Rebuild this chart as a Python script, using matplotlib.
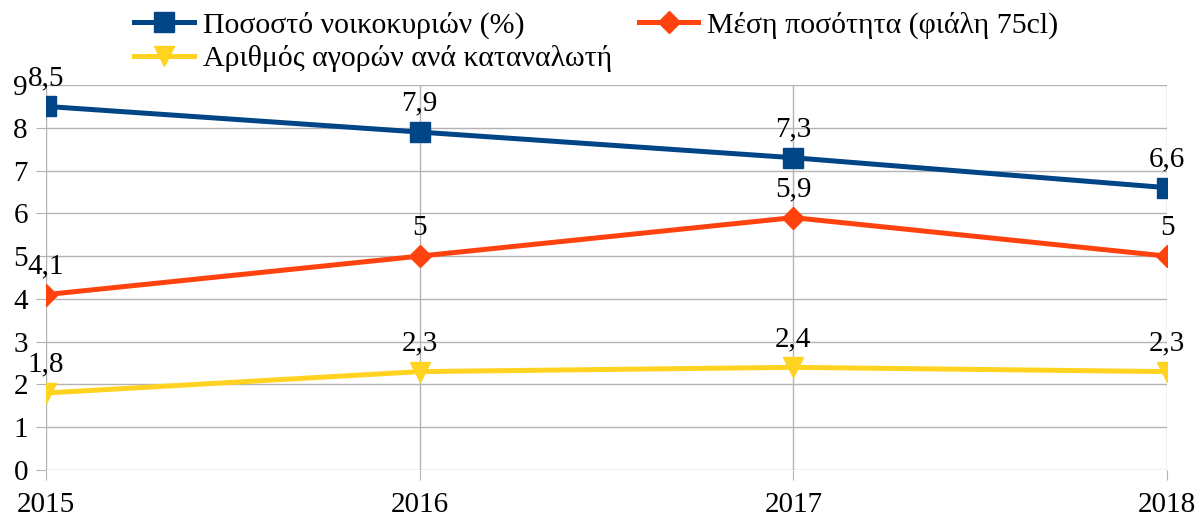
import matplotlib
matplotlib.use("Agg")
import matplotlib.pyplot as plt

years = ["2015", "2016", "2017", "2018"]
households = [8.5, 7.9, 7.3, 6.6]
avg_amount = [4.1, 5, 5.9, 5]
purchases = [1.8, 2.3, 2.4, 2.3]

labels = ["Ποσοστό νοικοκυριών (%)", "Μέση ποσότητα (φιάλη 75cl)",
          "Αριθμός αγορών ανά καταναλωτή"]

plt.rcParams['font.family'] = ['Liberation Serif', 'DejaVu Serif']
plt.rcParams['font.size'] = 21

fig = plt.figure(figsize=(11.97, 5.18), dpi=100)
ax = fig.add_axes([46 / 1197, 48 / 518, 1121 / 1197, 385 / 518])

x = range(len(years))
series = [
    (households, "#004586", "s", 14),
    (avg_amount, "#ff420e", "D", 11),
    (purchases, "#ffd320", "v", 15),
]
for vals, col, mk, ms in series:
    ax.plot(x, vals, color=col, lw=3.6, marker=mk, ms=ms, zorder=3)
    for xi, v in zip(x, vals):
        txt = f"{v:g}".replace(".", ",")
        ax.annotate(txt, (xi, v), xytext=(0, 11), textcoords="offset points",
                    ha="center", va="bottom", fontsize=21)

ax.set_xlim(0, 3)
ax.set_ylim(0, 9)
ax.set_yticks(range(10))
ax.set_xticks(list(x))
ax.set_xticklabels(years)
ax.grid(True, color="#b3b3b3", lw=1)
ax.set_axisbelow(True)
for s in ax.spines.values():
    s.set_visible(False)
ax.tick_params(axis="y", length=7, color="#b3b3b3", pad=6)
ax.tick_params(axis="x", length=7, color="#b3b3b3", pad=9)

# row-major order like the original: blue, orange / yellow
h = ax.get_lines()
fig.legend([h[0], h[2], h[1]], [labels[0], labels[2], labels[1]], ncol=2,
           loc="upper left", bbox_to_anchor=(122 / 1197, 1.0), frameon=False,
           handlelength=2.0, handletextpad=0.3, columnspacing=0.9,
           labelspacing=0.2, fontsize=21.5, borderaxespad=0)

fig.savefig("out.png", dpi=100)
